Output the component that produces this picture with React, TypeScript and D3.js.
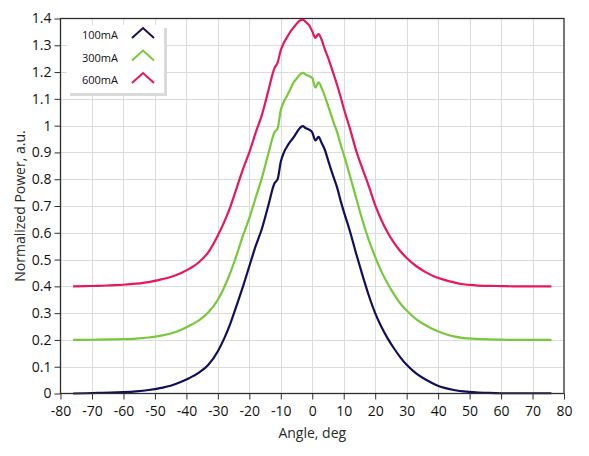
import React, { useEffect, useRef } from "react";
import * as d3 from "d3";

// angle samples, deg
const angles = [
  -76, -72, -68, -64, -60, -56, -52, -48, -45, -42, -39, -36, -33, -30, -28, -26,
  -24, -22, -20, -18, -16, -14, -12, -11, -10, -9, -8, -7, -6, -5, -4, -3, -2, -1,
  0, 1, 2, 3, 4, 5, 6, 7, 8, 9, 10, 12, 14, 16, 18, 20, 22, 24, 26, 28, 30, 33, 36,
  39, 42, 45, 48, 52, 56, 60, 64, 68, 72, 76,
];

const power100 = [
  0.0, 0.001, 0.002, 0.003, 0.005, 0.008, 0.013, 0.021, 0.029, 0.042, 0.058, 0.078,
  0.107, 0.158, 0.205, 0.262, 0.33, 0.4, 0.475, 0.55, 0.615, 0.7, 0.785, 0.8, 0.865,
  0.9, 0.922, 0.94, 0.955, 0.973, 0.99, 0.998, 0.99, 0.985, 0.975, 0.945, 0.958,
  0.935, 0.91, 0.872, 0.835, 0.8, 0.765, 0.72, 0.68, 0.605, 0.52, 0.44, 0.365,
  0.3, 0.248, 0.205, 0.168, 0.135, 0.107, 0.075, 0.052, 0.034, 0.021, 0.013, 0.008,
  0.004, 0.002, 0.001, 0.001, 0.001, 0.001, 0.001,
];

const power300 = [
  0.2, 0.2, 0.201, 0.202, 0.203, 0.205, 0.209, 0.216, 0.224, 0.236, 0.253, 0.273,
  0.303, 0.35, 0.396, 0.452, 0.518, 0.59, 0.655, 0.73, 0.805, 0.893, 0.975, 0.99,
  1.058, 1.09, 1.112, 1.135, 1.16, 1.175, 1.19, 1.197, 1.19, 1.185, 1.178, 1.142,
  1.162, 1.14, 1.11, 1.075, 1.04, 1.005, 0.972, 0.93, 0.893, 0.812, 0.728, 0.645,
  0.572, 0.51, 0.455, 0.41, 0.37, 0.336, 0.31, 0.278, 0.255, 0.237, 0.223, 0.213,
  0.207, 0.204, 0.202, 0.201, 0.2, 0.2, 0.2, 0.2,
];

const power600 = [
  0.4, 0.401, 0.402, 0.404, 0.406, 0.41, 0.416, 0.426, 0.435, 0.448, 0.466, 0.49,
  0.528, 0.59, 0.64, 0.698, 0.768, 0.838, 0.9, 0.973, 1.04, 1.128, 1.215, 1.235,
  1.282, 1.31, 1.33, 1.35, 1.365, 1.38, 1.392, 1.396, 1.386, 1.375, 1.352, 1.328,
  1.342, 1.32, 1.285, 1.255, 1.22, 1.185, 1.148, 1.108, 1.065, 0.988, 0.905, 0.838,
  0.773, 0.703, 0.647, 0.6, 0.562, 0.531, 0.506, 0.476, 0.453, 0.436, 0.424, 0.415,
  0.408, 0.404, 0.402, 0.401, 0.4, 0.4, 0.4, 0.4,
];

const seriesNames = ["100mA", "300mA", "600mA"];
const seriesColors = ["#10105e", "#79c83c", "#e8175d"];

const xTicks = d3.range(-80, 81, 10);
const yTicks = d3.range(0, 15).map((i) => i / 10);

const W = 589;
const H = 456;
const FONT = "'Open Sans', 'Noto Sans', sans-serif";

export default function App() {
  const svgRef = useRef<SVGSVGElement>(null);

  useEffect(() => {
    if (!svgRef.current) return;
    const svg = d3.select(svgRef.current);
    svg.selectAll("*").remove();

    const x = d3.scaleLinear().domain([-80, 80]).range([60.5, 564]);
    const y = d3.scaleLinear().domain([0, 1.4]).range([393.5, 18.5]);

    // grid
    const grid = svg.append("g").attr("stroke", "#dcdcdc").attr("stroke-width", 1);
    grid
      .selectAll("line.v")
      .data(xTicks.slice(1, -1))
      .enter()
      .append("line")
      .attr("x1", (d) => Math.round(x(d)) + 0.5)
      .attr("x2", (d) => Math.round(x(d)) + 0.5)
      .attr("y1", y(1.4))
      .attr("y2", y(0));
    grid
      .selectAll("line.h")
      .data(yTicks.slice(1, -1))
      .enter()
      .append("line")
      .attr("x1", x(-80))
      .attr("x2", x(80))
      .attr("y1", (d) => Math.round(y(d)) + 0.5)
      .attr("y2", (d) => Math.round(y(d)) + 0.5);

    // curves
    const series = [power100, power300, power600];
    const line = d3
      .line<number>()
      .x((_, i) => x(angles[i]))
      .y((d) => y(d))
      .curve(d3.curveMonotoneX);
    series.forEach((vals, k) => {
      svg
        .append("path")
        .attr("d", line(vals))
        .attr("fill", "none")
        .attr("stroke", seriesColors[k])
        .attr("stroke-width", 2.2)
        .attr("stroke-linejoin", "round");
    });

    // frame
    svg
      .append("rect")
      .attr("x", x(-80))
      .attr("y", y(1.4))
      .attr("width", x(80) - x(-80))
      .attr("height", y(0) - y(1.4))
      .attr("fill", "none")
      .attr("stroke", "#2e2e2e")
      .attr("stroke-width", 1.3);

    // x axis
    const xAxis = svg
      .append("g")
      .attr("transform", `translate(0,${y(0)})`)
      .call(
        d3
          .axisBottom(x)
          .tickValues(xTicks)
          .tickSize(6)
          .tickPadding(7)
          .tickFormat((d) => String(d))
      );
    xAxis.select(".domain").remove();
    xAxis.selectAll("line").attr("stroke", "#2e2e2e");
    xAxis
      .selectAll("text")
      .attr("fill", "#111")
      .style("font-family", FONT)
      .style("font-size", "14px");

    // y axis
    const yAxis = svg
      .append("g")
      .attr("transform", `translate(${x(-80)},0)`)
      .call(
        d3
          .axisLeft(y)
          .tickValues(yTicks)
          .tickSize(6)
          .tickPadding(3)
          .tickFormat((d) => String(+(+d).toFixed(1)))
      );
    yAxis.select(".domain").remove();
    yAxis.selectAll("line").attr("stroke", "#2e2e2e");
    yAxis
      .selectAll("text")
      .attr("fill", "#111")
      .style("font-family", FONT)
      .style("font-size", "14px");

    // axis titles
    svg
      .append("text")
      .attr("x", (x(-80) + x(80)) / 2)
      .attr("y", 438)
      .attr("text-anchor", "middle")
      .style("font-family", FONT)
      .style("font-size", "14px")
      .attr("fill", "#2a2a2a")
      .text("Angle, deg");

    svg
      .append("text")
      .attr("transform", `translate(25,${(y(0) + y(1.4)) / 2}) rotate(-90)`)
      .attr("text-anchor", "middle")
      .style("font-family", FONT)
      .style("font-size", "14px")
      .attr("fill", "#2a2a2a")
      .text("Normalized Power, a.u.");

    // legend
    const lg = svg.append("g").attr("transform", "translate(67,25)");
    lg.append("rect")
      .attr("x", 3)
      .attr("y", 3)
      .attr("width", 97)
      .attr("height", 68)
      .attr("fill", "#dadada");
    lg.append("rect")
      .attr("width", 97)
      .attr("height", 68)
      .attr("fill", "#fff");
    seriesNames.forEach((name, k) => {
      const row = lg.append("g").attr("transform", `translate(0,${14 + k * 22.5})`);
      row
        .append("text")
        .attr("x", 51)
        .attr("y", 0)
        .attr("text-anchor", "end")
        .style("font-family", FONT)
        .style("font-size", "11px")
        .attr("fill", "#111")
        .text(name);
      row
        .append("path")
        .attr("d", "M65,-1 L76,-11 L87,-1")
        .attr("fill", "none")
        .attr("stroke", seriesColors[k])
        .attr("stroke-width", 2);
    });
  }, []);

  return (
    <svg
      ref={svgRef}
      width={W}
      height={H}
      viewBox={`0 0 ${W} ${H}`}
      style={{ position: "absolute", left: 0, top: 0, background: "#fff" }}
    />
  );
}
